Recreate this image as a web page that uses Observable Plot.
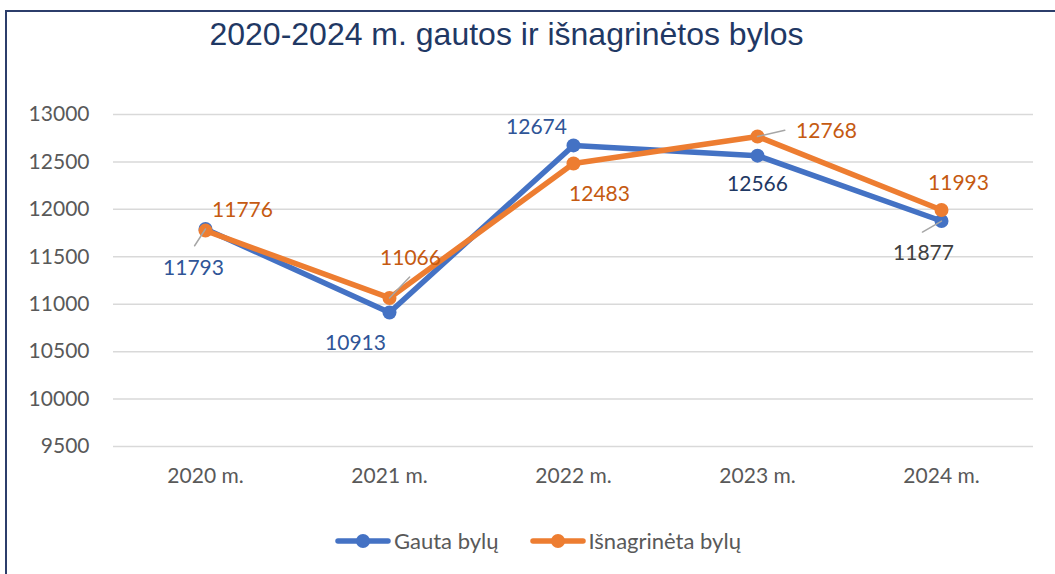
<!DOCTYPE html>
<html><head><meta charset="utf-8">
<script src="https://cdn.jsdelivr.net/npm/d3@7"></script>
<script src="https://cdn.jsdelivr.net/npm/@observablehq/plot@0.6"></script>
<style>
body{margin:0;background:#fff;}
#wrap{position:relative;width:1055px;height:574px;overflow:hidden;font-family:Lato,sans-serif;}
#frame{position:absolute;left:5px;top:10px;width:1070px;height:620px;border-top:2px solid #2C3E6B;border-left:2px solid #2C3E6B;}
#title{position:absolute;top:16px;left:0;width:1013px;text-align:center;font-family:"Liberation Sans",Arial,sans-serif;font-size:32px;color:#1F3864;white-space:nowrap;z-index:2;}
#chart{position:absolute;left:0;top:0;z-index:1;}
#legend{position:absolute;top:527px;left:335px;display:flex;align-items:center;font-family:Lato,sans-serif;font-size:22px;color:#595959;z-index:2;}
#legend .item{display:flex;align-items:center;margin-right:31px;}
#legend svg{margin-right:3px;}
</style></head>
<body>
<div id="wrap">
  <div id="frame"></div>
  <div id="chart"></div>
  <div id="title">2020-2024 m. gautos ir išnagrinėtos bylos</div>
  <div id="legend"></div>
</div>
<script>
// ---- data ----
const years = ["2020 m.", "2021 m.", "2022 m.", "2023 m.", "2024 m."];
const gauta = [11793, 10913, 12674, 12566, 11877];
const isnagrineta = [11776, 11066, 12483, 12768, 11993];
const seriesNames = ["Gauta bylų", "Išnagrinėta bylų"];
const yTicks = [9500, 10000, 10500, 11000, 11500, 12000, 12500, 13000];

// ---- styles ----
const seriesColors = ["#4472C4", "#ED7D31"];
const labelStyles = [
  [ {dx:-12, dy:39, fill:"#2F5597"}, {dx:-34, dy:31, fill:"#2F5597"}, {dx:-37, dy:-18, fill:"#2F5597"}, {dx:0, dy:29, fill:"#1F3864"}, {dx:-18, dy:32, fill:"#404040"} ],
  [ {dx:37, dy:-20, fill:"#C55A11"}, {dx:21, dy:-40, fill:"#C55A11"}, {dx:26, dy:31, fill:"#C55A11"}, {dx:69, dy:-5, fill:"#C55A11"}, {dx:17, dy:-27, fill:"#C55A11"} ]
];
// leader lines: [seriesIndex, pointIndex, rotate(deg), length(px)]
const leaders = [ [0,0,213,20], [1,1,44,29], [1,3,77,28], [0,4,240,22] ];

const seriesValues = [gauta, isnagrineta];
const rows = seriesValues.map((vals, s) => years.map((yr, i) => ({year: yr, value: vals[i], series: seriesNames[s], s, i})));

const marks = [
  Plot.ruleY(yTicks, {stroke:"#D9D9D9", strokeWidth:1.5}),
  Plot.axisY({ticks: yTicks, tickSize: 0, tickPadding: 24, tickFormat: d => String(d), label: null}),
  Plot.axisX({tickSize: 0, tickPadding: 22, label: null})
];
rows.forEach((data, s) => {
  marks.push(Plot.line(data, {x:"year", y:"value", stroke: seriesColors[s], strokeWidth: 5.5, strokeLinejoin:"round", strokeLinecap:"round"}));
  marks.push(Plot.dot(data, {x:"year", y:"value", r: 7, fill: seriesColors[s], stroke: "none"}));
});
const leaderShape = {draw(context, l) { context.moveTo(0, 0); context.lineTo(0, -l); }};
leaders.forEach(([s, i, rot, len]) => {
  marks.push(Plot.vector([rows[s][i]], {x:"year", y:"value", rotate: rot, length: len, anchor:"start", shape: leaderShape, stroke:"#A6A6A6", strokeWidth: 1.5}));
});
rows.forEach((data, s) => {
  data.forEach((d, i) => {
    const st = labelStyles[s][i];
    marks.push(Plot.text([d], {x:"year", y:"value", text: d => String(d.value), dx: st.dx, dy: st.dy, fill: st.fill, fontSize: 21}));
  });
});

const chart = Plot.plot({
  width: 1055,
  height: 574,
  marginLeft: 113,
  marginRight: 22,
  marginTop: 114,
  marginBottom: 128,
  x: {type: "point", domain: years, padding: 0.5},
  y: {domain: [9500, 13000]},
  style: {fontFamily: "Lato, sans-serif", fontSize: "21px", color: "#595959", background: "transparent", overflow: "visible"},
  marks
});
document.getElementById("chart").appendChild(chart);

// legend
const legend = document.getElementById("legend");
seriesNames.forEach((name, s) => {
  const item = document.createElement("div");
  item.className = "item";
  item.innerHTML = `<svg width="56" height="16"><line x1="3" y1="8" x2="53" y2="8" stroke="${seriesColors[s]}" stroke-width="5.5" stroke-linecap="round"/><circle cx="28" cy="8" r="7" fill="${seriesColors[s]}"/></svg><span>${name}</span>`;
  legend.appendChild(item);
});
</script>
</body></html>
